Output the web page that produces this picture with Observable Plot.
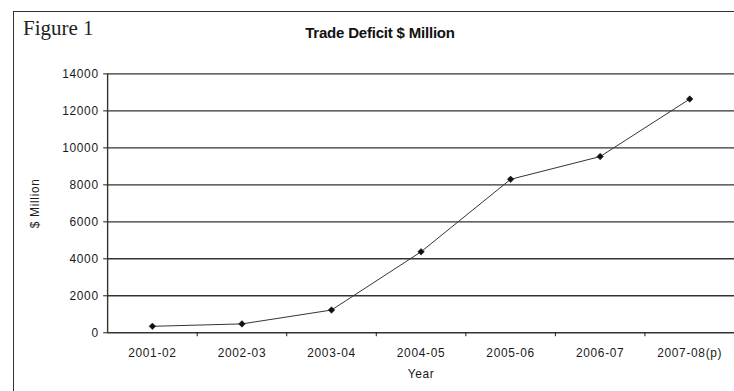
<!DOCTYPE html>
<html>
<head>
<meta charset="utf-8">
<script src="https://cdn.jsdelivr.net/npm/d3@7"></script>
<script src="https://cdn.jsdelivr.net/npm/@observablehq/plot@0.6"></script>
<style>
  html, body { margin: 0; padding: 0; background: #fff; overflow: hidden; }
  #wrap { position: relative; width: 734px; height: 391px; overflow: hidden; background: #fff; }
  #frame { position: absolute; left: 13px; top: 11px; width: 740px; height: 400px;
           border-left: 1.5px solid #333; border-top: 1.5px solid #333; }
  #fig { position: absolute; left: 23px; top: 18px; font-family: "Liberation Serif", "Times New Roman", serif;
         font-size: 21px; line-height: 21px; color: #222; white-space: nowrap; }
  #title { position: absolute; left: 380px; top: 25px; transform: translateX(-50%);
           font-family: "Liberation Sans", Arial, sans-serif; font-weight: bold; font-size: 15px;
           line-height: 15px; letter-spacing: -0.2px; color: #111; white-space: nowrap; }
  #chart { position: absolute; left: 0; top: 0; }
</style>
</head>
<body>
<div id="wrap">
  <div id="frame"></div>
  <div id="fig">Figure 1</div>
  <div id="title">Trade Deficit $ Million</div>
  <div id="chart"></div>
</div>
<script>
const categories = ["2001-02", "2002-03", "2003-04", "2004-05", "2005-06", "2006-07", "2007-08(p)"];
const deficit = [350, 480, 1230, 4380, 8300, 9530, 12640];
const yTicks = [0, 2000, 4000, 6000, 8000, 10000, 12000, 14000];

const data = categories.map((c, i) => ({i, year: c, value: deficit[i]}));
const xDomain = [-0.5, categories.length - 0.5];
const between = categories.slice(1).map((_, i) => i + 0.5);

const chart = Plot.plot({
  width: 740,
  height: 391,
  marginLeft: 108,
  marginRight: 0,
  marginTop: 74,
  marginBottom: 56,
  style: {
    fontFamily: "'Liberation Sans', Arial, sans-serif",
    fontSize: "12px",
    letterSpacing: "0.7px",
    color: "#1a1a1a",
    background: "transparent",
    overflow: "visible"
  },
  x: {type: "linear", domain: xDomain},
  y: {domain: [yTicks[0], yTicks[yTicks.length - 1]]},
  marks: [
    Plot.gridY(yTicks, {stroke: "#333", strokeOpacity: 1, strokeWidth: 1.4}),
    Plot.ruleX([xDomain[0]], {stroke: "#333", strokeWidth: 1.4}),
    Plot.axisY({ticks: yTicks, tickSize: 4, tickPadding: 5, tickFormat: d => String(d),
                label: "$ Million", labelAnchor: "center", labelArrow: "none", labelOffset: 78}),
    Plot.axisX({ticks: between, tickSize: 4, tickFormat: () => "", label: null}),
    Plot.axisX({ticks: categories.map((_, i) => i), tickSize: 0, tickPadding: 16,
                tickFormat: i => categories[i], label: "Year", labelAnchor: "center",
                labelArrow: "none", labelOffset: 46}),
    Plot.line(data, {x: "i", y: "value", stroke: "#333", strokeWidth: 1}),
    Plot.dot(data, {x: "i", y: "value", symbol: "diamond2", r: 3, fill: "#111", stroke: "#111", strokeWidth: 0.5})
  ]
});
document.getElementById("chart").appendChild(chart);
</script>
</body>
</html>
